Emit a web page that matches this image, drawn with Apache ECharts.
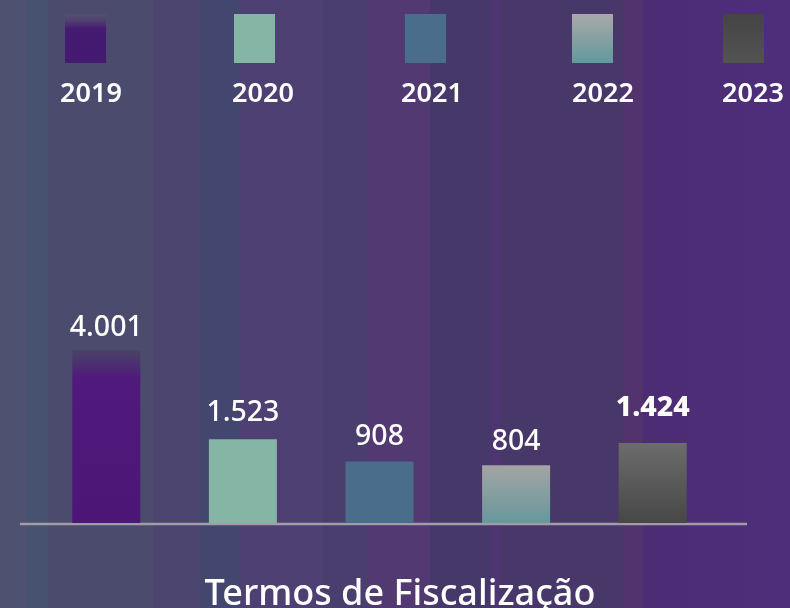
<!DOCTYPE html>
<html>
<head>
<meta charset="utf-8">
<script src="https://cdn.jsdelivr.net/npm/echarts@6.0.0/dist/echarts.min.js"></script>
<style>
    html, body { margin: 0; padding: 0; }
    #chart { width: 790px; height: 608px; }
</style>
</head>
<body>
<div id="chart"></div>
<script>
// dados do gráfico
const years = ['2019', '2020', '2021', '2022', '2023'];
const termos = [4001, 1523, 908, 804, 1424];
const chartTitle = 'Termos de Fiscalização';

// estilo
const FONT = '"Noto Sans", sans-serif';
const AXIS_START = -800; // as barras da referência não partem do zero
const BAR_WIDTH = 68;

const grad = (stops) => ({
    type: 'linear', x: 0, y: 0, x2: 0, y2: 1,
    colorStops: stops.map(s => ({ offset: s[0], color: s[1] }))
});

const barColors = [
    grad([[0, 'rgba(74,64,102,0.85)'], [0.16, '#4f1a7b'], [1, '#4c1677']]),
    '#84b5a5',
    '#4b6d8c',
    grad([[0, '#a4a4a4'], [1, '#67989c']]),
    grad([[0, '#6c6c6c'], [1, '#474747']])
];
const legendColors = [
    grad([[0, 'rgba(90,84,112,0.6)'], [0.3, '#441b70'], [1, '#451a71']]),
    '#84b5a5',
    '#4b6d8c',
    grad([[0, '#a9a9a9'], [1, '#63989d']]),
    grad([[0, '#444444'], [1, '#535353']])
];
const legendBoxX = [65, 234, 405, 572, 723];
const legendTextX = [91, 263, 432, 603, 753];
const labelGap = [8, 12, 10, 9, 21];
const labelWeight = [500, 500, 500, 500, 800];

// faixas verticais do fundo
const stripeEdges = [0, 27, 48, 153, 200, 240, 323, 367, 430, 490, 500, 623, 643, 790];
const stripeColors = ['#4f5171', '#475170', '#4b4c6d', '#4c456f', '#43466f', '#4e4072',
    '#4a3e6e', '#523972', '#463869', '#4c3570', '#483769', '#52336e', '#4c2d74'];

function bgGradient() {
    let stops = [];
    for (let i = 0; i < stripeColors.length; i++) {
        stops.push({ offset: stripeEdges[i] / 790, color: stripeColors[i] });
        stops.push({ offset: stripeEdges[i + 1] / 790, color: stripeColors[i] });
    }
    stops[stops.length - 1].color = '#4e2e7a';
    return { type: 'linear', x: 0, y: 0, x2: 1, y2: 0, colorStops: stops };
}

function fmt(v) {
    return String(v).replace(/\B(?=(\d{3})+(?!\d))/g, '.');
}

const chartDom = document.getElementById('chart');
const myChart = echarts.init(chartDom);

let graphics = [
    {
        type: 'rect', z: -10, silent: true,
        shape: { x: 0, y: 0, width: 790, height: 608 },
        style: { fill: bgGradient() }
    },
    {
        type: 'line', z: 1, silent: true,
        shape: { x1: 20, y1: 524, x2: 747, y2: 524 },
        style: { stroke: '#a19da6', lineWidth: 2.5 }
    },
    {
        type: 'text', silent: true,
        x: 400, y: 595,
        style: {
            text: chartTitle, fill: '#ffffff', font: '500 36px ' + FONT,
            textAlign: 'center', textVerticalAlign: 'middle'
        }
    }
];

for (let i = 0; i < years.length; i++) {
    graphics.push({
        type: 'rect', silent: true,
        shape: { x: legendBoxX[i], y: 14, width: 41, height: 49 },
        style: { fill: legendColors[i] }
    });
    graphics.push({
        type: 'text', silent: true,
        x: legendTextX[i], y: 94,
        style: {
            text: years[i], fill: '#ffffff', font: '600 27px ' + FONT,
            textAlign: 'center', textVerticalAlign: 'middle'
        }
    });
}

// barra desenhada do início do eixo até o valor
function renderBar(params, api) {
    const i = api.value(0);
    const v = api.value(1);
    const top = api.coord([i, v]);
    const bottom = api.coord([i, AXIS_START]);
    return {
        type: 'group',
        children: [
            {
                type: 'rect',
                shape: { x: top[0] - BAR_WIDTH / 2, y: top[1], width: BAR_WIDTH, height: bottom[1] - top[1] },
                style: { fill: barColors[i] }
            },
            {
                type: 'text',
                x: top[0],
                y: top[1] - labelGap[i],
                style: {
                    text: fmt(v), fill: '#ffffff',
                    font: labelWeight[i] + ' 28.5px ' + FONT,
                    textAlign: 'center', textVerticalAlign: 'bottom'
                }
            }
        ]
    };
}

const option = {
    animation: false,
    graphic: graphics,
    grid: { left: 38, right: 69, top: 91, bottom: 85 },
    xAxis: {
        type: 'category',
        data: years,
        show: false
    },
    yAxis: {
        type: 'value',
        min: AXIS_START,
        max: AXIS_START + 12000,
        show: false
    },
    series: [
        {
            name: chartTitle,
            type: 'custom',
            z: 2,
            renderItem: renderBar,
            encode: { x: 0, y: 1 },
            data: termos.map((v, i) => [i, v])
        }
    ]
};

option && myChart.setOption(option);
</script>
</body>
</html>
